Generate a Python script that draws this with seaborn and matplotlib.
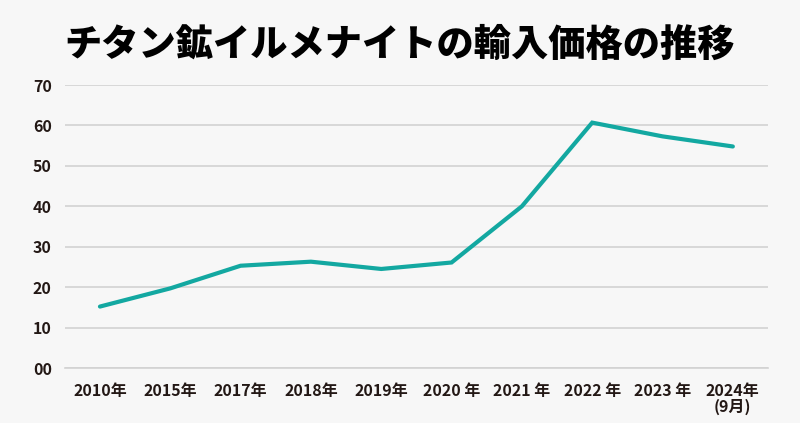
import matplotlib
matplotlib.use("Agg")
import matplotlib.pyplot as plt
import seaborn as sns
import pandas as pd

categories = ["2010年", "2015年", "2017年", "2018年", "2019年", "2020 年", "2021 年", "2022 年", "2023 年", "2024年\n(9月)"]
values = [15.2, 19.7, 25.3, 26.3, 24.5, 26.1, 40.0, 60.7, 57.3, 54.8]
yticks = [0, 10, 20, 30, 40, 50, 60, 70]
ytick_labels = ["00", "10", "20", "30", "40", "50", "60", "70"]
title = "チタン鉱イルメナイトの輸入価格の推移"

sns.set_theme(style="white")
plt.rcParams['font.family'] = ['Noto Sans CJK JP', 'DejaVu Sans']

bg = "#f7f7f7"
fig = plt.figure(figsize=(8, 4.23), dpi=100, facecolor=bg)
ax = fig.add_axes([0.081, 0.130, 0.879, 0.669])
ax.set_facecolor(bg)

df = pd.DataFrame({"x": list(range(len(categories))), "v": values})
sns.lineplot(data=df, x="x", y="v", ax=ax, color="#13a8a1", linewidth=3,
             solid_capstyle="round", solid_joinstyle="miter")

ax.set_xlim(-0.5, len(categories) - 0.5)
ax.set_ylim(0, 70)
ax.set_yticks(yticks)
ax.set_yticklabels(ytick_labels, fontsize=11.5, fontweight="bold", color="#231815")
ax.set_xticks(range(len(categories)))
ax.set_xticklabels(categories, fontsize=11.5, fontweight="bold", color="#231815",
                   linespacing=0.95)
ax.tick_params(axis="x", length=6, width=1, color="#cccccc", direction="out", pad=5)
ax.yaxis.grid(True, color="#d2d2d2", linewidth=1.2)
ax.set_axisbelow(True)
for s in ["top", "right", "left"]:
    ax.spines[s].set_visible(False)
ax.spines["bottom"].set_color("#d2d2d2")
ax.spines["bottom"].set_linewidth(1.2)
ax.set_xlabel("")
ax.set_ylabel("")
for lbl in ax.get_yticklabels():
    lbl.set_horizontalalignment("left")
ax.tick_params(axis="y", length=0, pad=23)

fig.text(0.5, 0.893, title, ha="center", va="center", fontsize=26.8,
         fontweight="black", color="#000000")

fig.savefig("out.png", dpi=100, facecolor=bg)
